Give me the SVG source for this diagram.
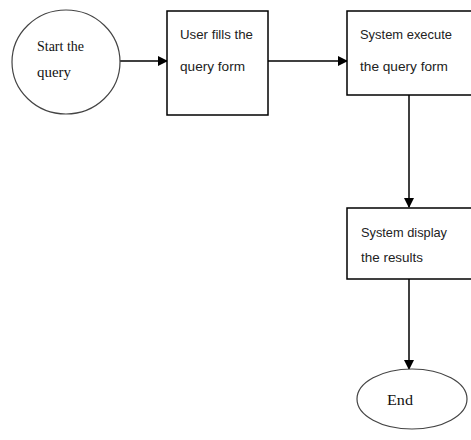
<svg xmlns="http://www.w3.org/2000/svg" width="471" height="440" viewBox="0 0 471 440">
<style>
.box{fill:#fff;stroke:#000;stroke-width:1.5}
.oval{fill:#fff;stroke:#444;stroke-width:1.2}
.t{font-family:"Liberation Sans",Arial,sans-serif;font-size:13px;fill:#222}
.s{font-family:"Liberation Serif","Times New Roman",serif;font-size:15px;fill:#111}
.c{stroke:#000;stroke-width:1.5;fill:none}
</style>
<defs>
<marker id="ah" markerWidth="10" markerHeight="10" refX="9" refY="5" orient="auto" markerUnits="userSpaceOnUse">
<path d="M0,0 L10,5 L0,10 z" fill="#000"/>
</marker>
</defs>
<rect width="471" height="440" fill="#fff"/>
<g id="connectors">
<line class="c" x1="120" y1="61" x2="167" y2="61" marker-end="url(#ah)"/>
<line class="c" x1="268" y1="61" x2="347" y2="61" marker-end="url(#ah)"/>
<line class="c" x1="409" y1="95" x2="409" y2="207" marker-end="url(#ah)"/>
<line class="c" x1="409" y1="279" x2="409" y2="369" marker-end="url(#ah)"/>
</g>
<g id="start">
<ellipse class="oval" cx="66" cy="62" rx="54" ry="52"/>
<text class="s" x="37" y="51" textLength="47" lengthAdjust="spacingAndGlyphs">Start the</text>
<text class="s" x="37" y="77" textLength="34" lengthAdjust="spacingAndGlyphs">query</text>
</g>
<g id="fill">
<rect class="box" x="167" y="11" width="101" height="104"/>
<text class="t" x="180" y="39" textLength="73" lengthAdjust="spacingAndGlyphs">User fills the</text>
<text class="t" x="180" y="71" textLength="65" lengthAdjust="spacingAndGlyphs">query form</text>
</g>
<g id="execute">
<rect class="box" x="347" y="11" width="130" height="84"/>
<text class="t" x="360" y="39" textLength="92" lengthAdjust="spacingAndGlyphs">System execute</text>
<text class="t" x="360" y="71" textLength="88" lengthAdjust="spacingAndGlyphs">the query form</text>
</g>
<g id="display">
<rect class="box" x="347" y="208" width="130" height="71"/>
<text class="t" x="361" y="237" textLength="86" lengthAdjust="spacingAndGlyphs">System display</text>
<text class="t" x="361" y="262" textLength="62" lengthAdjust="spacingAndGlyphs">the results</text>
</g>
<g id="end">
<ellipse class="oval" cx="412" cy="399" rx="55" ry="30"/>
<text class="s" x="387" y="405" textLength="26" lengthAdjust="spacingAndGlyphs">End</text>
</g>
</svg>
